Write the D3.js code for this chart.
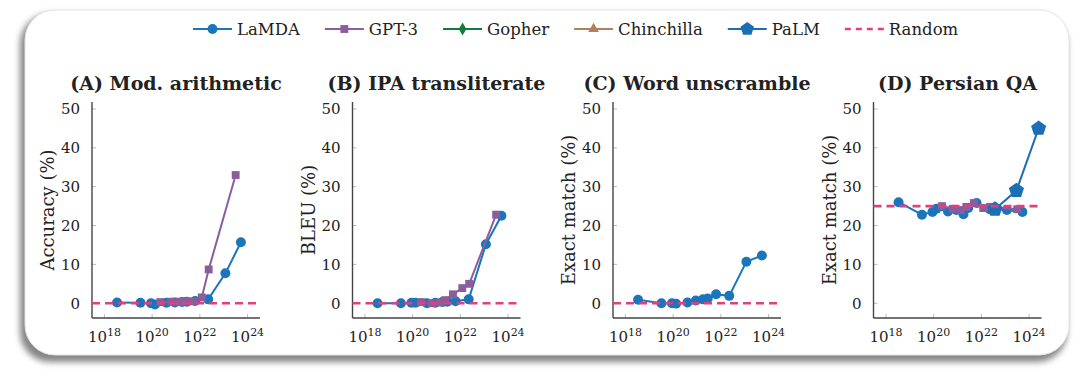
<!DOCTYPE html>
<html>
<head>
<meta charset="utf-8">
<script src="https://cdn.jsdelivr.net/npm/d3@7"></script>
<style>
  body { margin: 0; background: #fff; }
  svg text { font-family: "DejaVu Serif", serif; fill: #222; }
</style>
</head>
<body>
<svg id="chart"></svg>
<script>
// chart values
var panelTitles = ["(A) Mod. arithmetic", "(B) IPA transliterate", "(C) Word unscramble", "(D) Persian QA"];
var yLabels = ["Accuracy (%)", "BLEU (%)", "Exact match (%)", "Exact match (%)"];
var yTicks = [0, 10, 20, 30, 40, 50];
var xTickExps = [18, 20, 22, 24];
var legendNames = ["LaMDA", "GPT-3", "Gopher", "Chinchilla", "PaLM", "Random"];

// training FLOPs, as log10
var lamdaFlops = [18.53, 19.51, 19.95, 20.12, 20.6, 20.95, 21.25, 21.45, 21.8, 22.35, 23.07, 23.72];
var gpt3Flops = [20.35, 20.8, 21.14, 21.37, 21.69, 22.08, 22.37, 23.5];
var palmFlops = [22.57, 23.47, 24.4];

// (A) modified arithmetic
var lamdaA = [0.2, 0.1, 0.0, -0.3, 0.1, 0.2, 0.3, 0.4, 0.6, 1.0, 7.7, 15.7];
var gpt3A = [0.3, 0.4, 0.4, 0.5, 0.5, 1.5, 8.7, 33.0];
// (B) IPA transliterate
var lamdaB = [0.0, 0.0, 0.1, 0.1, 0.0, 0.1, 0.3, 0.4, 0.5, 1.0, 15.2, 22.5];
var gpt3B = [0.3, 0.0, 0.2, 0.8, 2.3, 3.9, 5.0, 22.8];
// (C) word unscramble
var lamdaC = [0.9, 0.0, 0.0, -0.1, 0.2, 0.7, 1.0, 1.2, 2.3, 1.9, 10.7, 12.3];
// (D) Persian QA
var lamdaD = [26.0, 22.8, 23.5, 24.3, 23.6, 24.0, 22.9, 24.5, 25.8, 24.2, 24.0, 23.5];
var gpt3D = [25.0, 24.3, 24.0, 24.8, 25.8, 24.5, 24.8, 24.2];
var palmD = [24.2, 29.0, 45.0];
var randomBaseline = [0, 0, 0, 25];

var colors = {
  "LaMDA": "#1b75bb",
  "GPT-3": "#8b5e9b",
  "Gopher": "#137a3e",
  "Chinchilla": "#b0805c",
  "PaLM": "#1c6fb5",
  "Random": "#e0407f"
};

var width = 1080, height = 379;
var svg = d3.select("#chart").attr("width", width).attr("height", height);

// pentagon marker for PaLM
var pentagon = {
  draw: function(ctx, size) {
    var r = Math.sqrt(size / (2.5 * Math.sin(2 * Math.PI / 5)));
    for (var i = 0; i < 5; i++) {
      var a = -Math.PI / 2 + i * 2 * Math.PI / 5;
      if (i == 0) ctx.moveTo(r * Math.cos(a), r * Math.sin(a));
      else ctx.lineTo(r * Math.cos(a), r * Math.sin(a));
    }
    ctx.closePath();
  }
};
var symbols = {
  "LaMDA": [d3.symbolCircle, 78],
  "GPT-3": [d3.symbolSquare, 62],
  "Gopher": [d3.symbolDiamond, 50],
  "Chinchilla": [d3.symbolTriangle, 50],
  "PaLM": [pentagon, 150]
};

// card background with soft shadow
var defs = svg.append("defs");
var f = defs.append("filter").attr("id", "shadow").attr("x", "-5%").attr("y", "-10%").attr("width", "110%").attr("height", "125%");
f.append("feGaussianBlur").attr("stdDeviation", 3);

svg.append("rect")
  .attr("x", 20).attr("y", 14).attr("width", 1047).attr("height", 348)
  .attr("rx", 30).attr("fill", "#858585").attr("filter", "url(#shadow)");
svg.append("rect")
  .attr("x", 25).attr("y", 10).attr("width", 1044).attr("height", 345)
  .attr("rx", 30).attr("fill", "#fff").attr("stroke", "#e4e4e4");

// panels
var axisLefts = [92, 352.5, 613, 873.5];
var plotW = 168, plotTop = 102, plotBottom = 318;

var x = d3.scaleLog().domain([Math.pow(10, 17.48), Math.pow(10, 24.52)]).range([0, plotW]);
var y = d3.scaleLinear().domain([-3.8, 51.8]).range([plotBottom - plotTop, 0]);

function pts(flops, vals) {
  return flops.map(function(e, i) { return [Math.pow(10, e), vals[i]]; });
}

var panels = [
  { series: [["LaMDA", pts(lamdaFlops, lamdaA)], ["GPT-3", pts(gpt3Flops, gpt3A)]] },
  { series: [["LaMDA", pts(lamdaFlops, lamdaB)], ["GPT-3", pts(gpt3Flops, gpt3B)]] },
  { series: [["LaMDA", pts(lamdaFlops, lamdaC)]] },
  { series: [["LaMDA", pts(lamdaFlops, lamdaD)], ["GPT-3", pts(gpt3Flops, gpt3D)], ["PaLM", pts(palmFlops, palmD)]] }
];

var line = d3.line().x(function(d) { return x(d[0]); }).y(function(d) { return y(d[1]); });

panels.forEach(function(p, k) {
  var g = svg.append("g").attr("transform", "translate(" + axisLefts[k] + "," + plotTop + ")");
  var h = plotBottom - plotTop;

  // title
  g.append("text")
    .attr("x", plotW / 2).attr("y", -12)
    .attr("text-anchor", "middle")
    .style("font-weight", "bold")
    .style("font-size", "19px")
    .text(panelTitles[k]);

  // y axis label
  g.append("text")
    .attr("transform", "translate(-44," + (h / 2) + ") rotate(-90)")
    .attr("text-anchor", "middle")
    .attr("dy", "0.35em")
    .style("font-size", "18px")
    .text(yLabels[k]);

  // ticks (inside) and labels
  g.selectAll(".ytick").data(yTicks).enter().append("line")
    .attr("x1", 0).attr("x2", 4)
    .attr("y1", function(d) { return y(d); }).attr("y2", function(d) { return y(d); })
    .attr("stroke", "#aaa").attr("stroke-width", 0.8);
  g.selectAll(".ylab").data(yTicks).enter().append("text")
    .attr("x", -12).attr("y", function(d) { return y(d); })
    .attr("dy", "0.36em").attr("text-anchor", "end")
    .style("font-size", "15px")
    .text(function(d) { return d; });

  g.selectAll(".xtick").data(xTickExps).enter().append("line")
    .attr("x1", function(d) { return x(Math.pow(10, d)); })
    .attr("x2", function(d) { return x(Math.pow(10, d)); })
    .attr("y1", h).attr("y2", h - 4)
    .attr("stroke", "#aaa").attr("stroke-width", 0.8);
  var xl = g.selectAll(".xlab").data(xTickExps).enter().append("text")
    .attr("x", function(d) { return x(Math.pow(10, d)); })
    .attr("y", h + 24)
    .attr("text-anchor", "middle")
    .style("font-size", "15px");
  xl.append("tspan").text("10");
  xl.append("tspan").attr("dy", -6.5).style("font-size", "11px").text(function(d) { return d; });

  // axis lines
  g.append("line").attr("x1", 0).attr("x2", 0).attr("y1", 0).attr("y2", h)
    .attr("stroke", "#444").attr("stroke-width", 1.4);
  g.append("line").attr("x1", 0).attr("x2", plotW).attr("y1", h).attr("y2", h)
    .attr("stroke", "#444").attr("stroke-width", 1.4);

  // series
  p.series.forEach(function(s) {
    var name = s[0], data = s[1];
    g.append("path").datum(data)
      .attr("d", line)
      .attr("fill", "none")
      .attr("stroke", colors[name])
      .attr("stroke-width", 2);
    g.selectAll(null).data(data).enter().append("path")
      .attr("transform", function(d) { return "translate(" + x(d[0]) + "," + y(d[1]) + ")"; })
      .attr("d", d3.symbol().type(symbols[name][0]).size(symbols[name][1]))
      .attr("fill", colors[name]);
  });

  // random baseline
  g.append("line")
    .attr("x1", 0).attr("x2", plotW)
    .attr("y1", y(randomBaseline[k])).attr("y2", y(randomBaseline[k]))
    .attr("stroke", colors["Random"])
    .attr("stroke-width", 2.6)
    .attr("stroke-dasharray", "8,5");
});

// legend
var lx = 193, ly = 29, sampleW = 39;
legendNames.forEach(function(name) {
  var c = colors[name];
  if (name == "Random") {
    svg.append("line").attr("x1", lx).attr("x2", lx + sampleW).attr("y1", ly).attr("y2", ly)
      .attr("stroke", c).attr("stroke-width", 2.6).attr("stroke-dasharray", "6,5");
  } else {
    svg.append("line").attr("x1", lx).attr("x2", lx + sampleW).attr("y1", ly).attr("y2", ly)
      .attr("stroke", c).attr("stroke-width", 2);
    var sz = name == "PaLM" ? 120 : symbols[name][1];
    svg.append("path")
      .attr("transform", "translate(" + (lx + sampleW / 2) + "," + ly + ")")
      .attr("d", d3.symbol().type(symbols[name][0]).size(sz))
      .attr("fill", c);
  }
  var t = svg.append("text")
    .attr("x", lx + sampleW + 5).attr("y", ly)
    .attr("dy", "0.35em")
    .style("font-size", "16.5px")
    .text(name);
  lx += sampleW + 5 + t.node().getComputedTextLength() + 25;
});
</script>
</body>
</html>
